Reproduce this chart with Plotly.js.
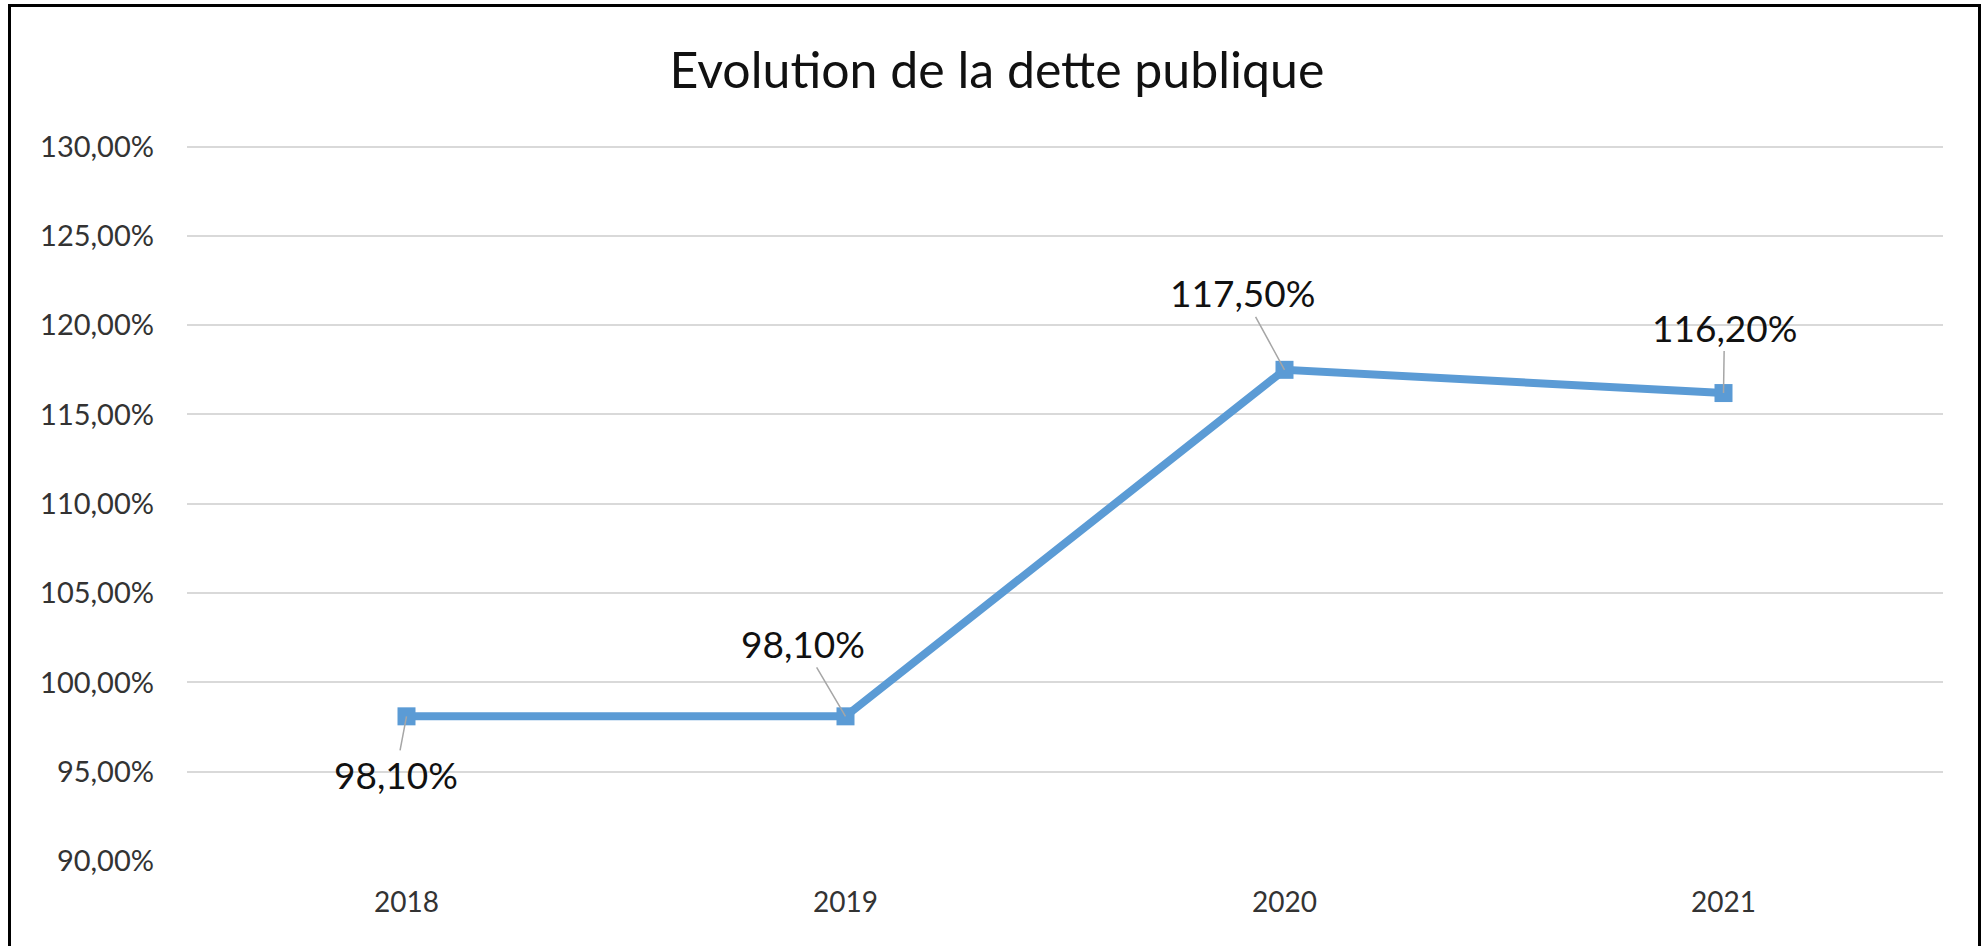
<!DOCTYPE html>
<html>
<head>
<meta charset="utf-8">
<script src="https://cdn.plot.ly/plotly-3.0.1.min.js"></script>
<style>
  html, body { margin: 0; padding: 0; background: #fff; overflow: hidden; }
  #plot { width: 1982px; height: 946px; }
  #frame { position: absolute; left: 8px; top: 4px; width: 1967px; height: 1000px;
           border: 3px solid #000; pointer-events: none; }
</style>
</head>
<body>
<div id="plot"></div>
<div id="frame"></div>
<script>
// data
var years = ["2018", "2019", "2020", "2021"];
var dette = [98.1, 98.1, 117.5, 116.2];

// label offsets (px) from each point, as placed in the original
var labelDx = [-11, -43, -42, 1];
var labelDy = [58, -73, -77, -66];

var bleu = "#5B9BD5";

var trace1 = {
  x: years,
  y: dette,
  type: "scatter",
  mode: "lines+markers",
  line: { color: bleu, width: 8 },
  marker: { symbol: "square", size: 18, color: bleu },
  hoverinfo: "x+y"
};

// data labels with grey leader lines
var labels = [];
for (var i = 0; i < years.length; i++) {
  labels.push({
    x: i,
    y: dette[i],
    xref: "x",
    yref: "y",
    text: dette[i].toFixed(2).replace(".", ",") + "%",
    showarrow: true,
    arrowhead: 0,
    arrowwidth: 1.5,
    arrowcolor: "#A6A6A6",
    ax: labelDx[i],
    ay: labelDy[i],
    font: { family: "Lato, sans-serif", size: 37, color: "#111" }
  });
}

var layout = {
  width: 1982,
  height: 946,
  margin: { l: 187, r: 39, t: 143, b: 85 },
  separators: ", ",
  paper_bgcolor: "#fff",
  plot_bgcolor: "#fff",
  showlegend: false,
  title: {
    text: "Evolution de la dette publique",
    xref: "container",
    x: 0.503,
    xanchor: "center",
    y: 0.926,
    yanchor: "middle",
    font: { family: "Lato, sans-serif", size: 50, color: "#111" }
  },
  xaxis: {
    type: "category",
    range: [-0.5, 3.5],
    showgrid: false,
    zeroline: false,
    showline: false,
    ticks: "",
    ticklabelstandoff: 22,
    tickfont: { family: "Lato, sans-serif", size: 28, color: "#333" }
  },
  yaxis: {
    range: [90, 130.2],
    dtick: 5,
    tick0: 90,
    tickformat: ".2f",
    ticksuffix: "%",
    showgrid: true,
    gridcolor: "#D9D9D9",
    gridwidth: 2,
    zeroline: false,
    showline: false,
    ticks: "",
    ticklabelstandoff: 32,
    tickfont: { family: "Lato, sans-serif", size: 29, color: "#333" }
  },
  annotations: labels
};

Plotly.newPlot("plot", [trace1], layout, { displayModeBar: false });
</script>
</body>
</html>
